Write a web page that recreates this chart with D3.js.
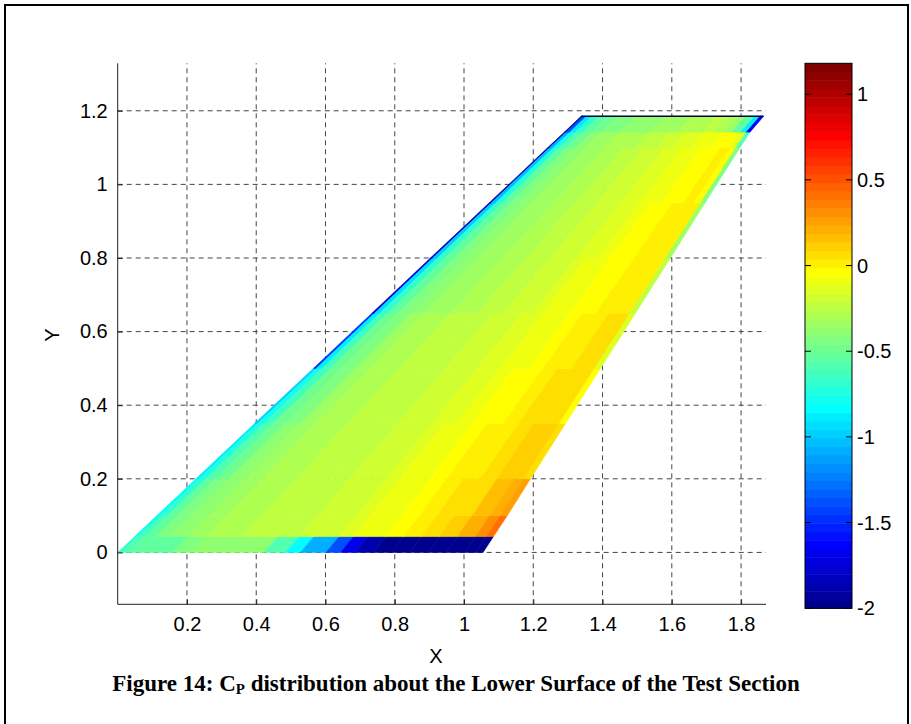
<!DOCTYPE html>
<html>
<head>
<meta charset="utf-8">
<script src="https://cdn.jsdelivr.net/npm/d3@7"></script>
<style>
  body { margin: 0; background: #fff; }
  svg { display: block; }
</style>
</head>
<body>
<div id="chart"></div>
<script>
// span stations (Y) and the planform edges at each station
var spanY = [0, 0.043, 0.1, 0.2, 0.35, 0.5, 0.65, 0.8, 0.95, 1.1, 1.142, 1.185];
var leadX = [0, 0.049, 0.113, 0.226, 0.395, 0.565, 0.734, 0.903, 1.073, 1.242, 1.29, 1.338];
var trailX = [1.055, 1.085, 1.125, 1.192, 1.293, 1.394, 1.495, 1.596, 1.696, 1.797, 1.826, 1.865];

// chordwise stations (fraction of local chord)
var chordFrac = [0, 0.01, 0.03, 0.06, 0.1, 0.15, 0.2, 0.3, 0.4, 0.46, 0.5, 0.57, 0.61, 0.65, 0.7, 0.75, 0.8, 0.85, 0.9, 0.95, 0.98, 1];

// Cp for each cell, one row per span strip (root first)
var cpRow0 = [-0.7, -0.6, -0.55, -0.55, -0.55, -0.45, -0.4, -0.4, -0.6, -0.85, -1.1, -1.4, -1.7, -1.9, -2, -2, -2, -2, -2, -2, -2];
var cpRow1 = [-0.8, -0.65, -0.55, -0.45, -0.4, -0.35, -0.3, -0.25, -0.22, -0.2, -0.17, -0.14, -0.11, -0.07, -0.03, 0.0, 0.05, 0.1, 0.2, 0.32, 0.42];
var cpRow2 = [-0.85, -0.7, -0.55, -0.45, -0.4, -0.35, -0.3, -0.25, -0.22, -0.2, -0.17, -0.14, -0.11, -0.07, -0.03, 0.0, 0.04, 0.08, 0.14, 0.22, 0.25];
var cpRow3 = [-0.9, -0.75, -0.58, -0.47, -0.4, -0.35, -0.3, -0.25, -0.22, -0.2, -0.17, -0.14, -0.11, -0.07, -0.04, -0.01, 0.03, 0.06, 0.1, 0.12, 0.05];
var cpRow4 = [-1.0, -0.8, -0.62, -0.5, -0.42, -0.35, -0.3, -0.25, -0.22, -0.2, -0.17, -0.15, -0.12, -0.09, -0.05, -0.02, 0.02, 0.05, 0.08, 0.08, -0.05];
var cpRow5 = [-1.5, -0.9, -0.65, -0.5, -0.42, -0.36, -0.31, -0.26, -0.23, -0.21, -0.18, -0.16, -0.13, -0.1, -0.07, -0.04, 0.0, 0.03, 0.05, 0.05, -0.15];
var cpRow6 = [-1.8, -0.95, -0.68, -0.52, -0.43, -0.37, -0.32, -0.27, -0.24, -0.22, -0.19, -0.17, -0.14, -0.11, -0.08, -0.05, -0.02, 0.01, 0.03, 0.02, -0.25];
var cpRow7 = [-1.85, -1.0, -0.7, -0.54, -0.44, -0.38, -0.33, -0.28, -0.25, -0.23, -0.2, -0.18, -0.15, -0.12, -0.09, -0.06, -0.03, 0.0, 0.02, 0.0, -0.35];
var cpRow8 = [-1.9, -1.05, -0.72, -0.55, -0.45, -0.39, -0.34, -0.29, -0.26, -0.24, -0.21, -0.19, -0.16, -0.13, -0.1, -0.07, -0.04, -0.02, 0.0, -0.05, -0.45];
var cpRow9 = [-1.9, -1.1, -0.78, -0.58, -0.47, -0.41, -0.36, -0.31, -0.28, -0.26, -0.23, -0.21, -0.19, -0.16, -0.13, -0.1, -0.08, -0.06, -0.06, -0.15, -0.6];
var cpRow10 = [-1.95, -1.4, -0.9, -0.7, -0.55, -0.5, -0.45, -0.4, -0.38, -0.36, -0.34, -0.32, -0.3, -0.28, -0.27, -0.26, -0.28, -0.33, -0.55, -0.9, -1.7];
var cpRows = [cpRow0, cpRow1, cpRow2, cpRow3, cpRow4, cpRow5, cpRow6, cpRow7, cpRow8, cpRow9, cpRow10];

var xTicks = [0.2, 0.4, 0.6, 0.8, 1, 1.2, 1.4, 1.6, 1.8];
var yTicks = [0, 0.2, 0.4, 0.6, 0.8, 1, 1.2];
var cTicks = [-2, -1.5, -1, -0.5, 0, 0.5, 1];
var cLimits = [-2, 1.18];
var xLimits = [0, 1.872];
var yLimits = [-0.141, 1.329];

var W = 911, H = 724;
var fontSans = "'Liberation Sans', Arial, sans-serif";
var fmt = function(d){ return String(d); };   // plain hyphen for minus, like matlab

var svg = d3.select("#chart").append("svg")
    .attr("width", W)
    .attr("height", H);

// frame around the figure
svg.append("path")
    .attr("d", "M5,724 L5,5 L908,5 L908,724")
    .attr("fill", "none")
    .attr("stroke", "#000")
    .attr("stroke-width", 2);

var x = d3.scaleLinear().domain(xLimits).range([117.7, 766]);
var y = d3.scaleLinear().domain(yLimits).range([604.3, 63.3]);

// matlab jet, 64 entries
function jetMap(m){
  var n = Math.ceil(m / 4);
  var u = [];
  for(var i = 1; i <= n; i++) u.push(i / n);
  for(var i = 0; i < n - 1; i++) u.push(1);
  for(var i = n; i >= 1; i--) u.push(i / n);
  var map = [];
  for(var i = 0; i < m; i++) map.push([0, 0, 0]);
  var g0 = Math.ceil(n / 2) - (m % 4 == 1 ? 1 : 0);
  for(var k = 0; k < u.length; k++){
    var g = g0 + k + 1, r = g + n, b = g - n;
    if(r >= 1 && r <= m) map[r - 1][0] = u[k];
    if(g >= 1 && g <= m) map[g - 1][1] = u[k];
    if(b >= 1 && b <= m) map[b - 1][2] = u[k];
  }
  return map.map(function(c){
    return d3.rgb(c[0] * 255, c[1] * 255, c[2] * 255).toString();
  });
}
var jet = jetMap(64);
function cpColor(v){
  var idx = Math.floor((v - cLimits[0]) / (cLimits[1] - cLimits[0]) * 64);
  idx = Math.max(0, Math.min(63, idx));
  return jet[idx];
}

// grid (drawn under the surface)
var grid = svg.append("g")
    .attr("stroke", "#444")
    .attr("stroke-width", 1)
    .attr("stroke-dasharray", "5,4");
grid.selectAll(".gx").data(xTicks).enter().append("line")
    .attr("x1", function(d){ return x(d); })
    .attr("x2", function(d){ return x(d); })
    .attr("y1", y.range()[0])
    .attr("y2", y.range()[1]);
grid.selectAll(".gy").data(yTicks).enter().append("line")
    .attr("y1", function(d){ return y(d); })
    .attr("y2", function(d){ return y(d); })
    .attr("x1", x.range()[0])
    .attr("x2", x.range()[1]);

// build the surface cells
var cells = [];
for(var r = 0; r < cpRows.length; r++){
  var c0 = trailX[r] - leadX[r], c1 = trailX[r + 1] - leadX[r + 1];
  for(var j = 0; j < chordFrac.length - 1; j++){
    var f0 = chordFrac[j], f1 = chordFrac[j + 1];
    cells.push({
      cp: cpRows[r][j],
      pts: [
        [leadX[r] + f0 * c0, spanY[r]],
        [leadX[r] + f1 * c0, spanY[r]],
        [leadX[r + 1] + f1 * c1, spanY[r + 1]],
        [leadX[r + 1] + f0 * c1, spanY[r + 1]]
      ]
    });
  }
}

var line = d3.line()
    .x(function(d){ return x(d[0]); })
    .y(function(d){ return y(d[1]); });

svg.append("g").selectAll("path")
    .data(cells)
  .enter().append("path")
    .attr("d", function(d){ return line(d.pts) + "Z"; })
    .attr("fill", function(d){ return cpColor(d.cp); })
    .attr("stroke", function(d){ return cpColor(d.cp); })
    .attr("stroke-width", 0.6);

// dark edge along the tip
var last = spanY.length - 1;
svg.append("path")
    .attr("d", line([[leadX[last], spanY[last]], [trailX[last], spanY[last]]]))
    .attr("stroke", "#00003a")
    .attr("stroke-width", 1.5);

// axes: only left and bottom, ticks inside
var xAxis = d3.axisBottom(x).tickValues(xTicks).tickSize(-5).tickPadding(13).tickFormat(fmt);
var yAxis = d3.axisLeft(y).tickValues(yTicks).tickSize(-5).tickPadding(10).tickFormat(fmt);

var gx = svg.append("g")
    .attr("transform", "translate(0," + y.range()[0] + ")")
    .call(xAxis);
var gy = svg.append("g")
    .attr("transform", "translate(" + x.range()[0] + ",0)")
    .call(yAxis);
gx.select(".domain").attr("d", "M" + x.range()[0] + ",0H" + x.range()[1]);
gy.select(".domain").attr("d", "M0," + y.range()[0] + "V" + y.range()[1]);
[gx, gy].forEach(function(g){
  g.select(".domain").attr("stroke", "#222");
  g.selectAll(".tick line").attr("stroke", "#222");
  g.selectAll(".tick text").attr("font-size", 20).attr("fill", "#000").attr("font-family", fontSans);
});

svg.append("text")
    .attr("x", 436)
    .attr("y", 663)
    .attr("text-anchor", "middle")
    .attr("font-family", fontSans)
    .attr("font-size", 20)
    .text("X");
svg.append("text")
    .attr("transform", "translate(59,335) rotate(-90)")
    .attr("text-anchor", "middle")
    .attr("font-family", fontSans)
    .attr("font-size", 20)
    .text("Y");

// colorbar
var cb = { x0: 805, x1: 852 };
var cy = d3.scaleLinear().domain(cLimits).range([608.3, 63.3]);
var bands = d3.range(64);
svg.append("g").selectAll("rect")
    .data(bands)
  .enter().append("rect")
    .attr("x", cb.x0)
    .attr("width", cb.x1 - cb.x0)
    .attr("y", function(i){ return cy(cLimits[0] + (i + 1) / 64 * (cLimits[1] - cLimits[0])); })
    .attr("height", function(i){ return cy(cLimits[0]) - cy(cLimits[0] + 1 / 64 * (cLimits[1] - cLimits[0])) + 0.5; })
    .attr("fill", function(i){ return jet[i]; });
svg.append("rect")
    .attr("x", cb.x0)
    .attr("y", cy.range()[1])
    .attr("width", cb.x1 - cb.x0)
    .attr("height", cy.range()[0] - cy.range()[1])
    .attr("fill", "none")
    .attr("stroke", "#000")
    .attr("stroke-width", 1);
var cbTicks = svg.append("g").selectAll("g")
    .data(cTicks)
  .enter().append("g")
    .attr("transform", function(d){ return "translate(0," + cy(d) + ")"; });
cbTicks.append("line")
    .attr("x1", cb.x0).attr("x2", cb.x0 + 6)
    .attr("stroke", "#000");
cbTicks.append("line")
    .attr("x1", cb.x1 - 6).attr("x2", cb.x1)
    .attr("stroke", "#000");
cbTicks.append("text")
    .attr("x", cb.x1 + 5)
    .attr("dy", "0.35em")
    .attr("font-family", fontSans)
    .attr("font-size", 20)
    .text(fmt);

// caption
var cap = svg.append("text")
    .attr("x", 456)
    .attr("y", 691)
    .attr("text-anchor", "middle")
    .attr("font-family", "'Liberation Serif', 'Times New Roman', serif")
    .attr("font-weight", "bold")
    .attr("font-size", 23);
cap.append("tspan").text("Figure 14: C");
cap.append("tspan").attr("font-size", 15).attr("dy", 3).text("P");
cap.append("tspan").attr("dy", -3).text(" distribution about the Lower Surface of the Test Section");
</script>
</body>
</html>
